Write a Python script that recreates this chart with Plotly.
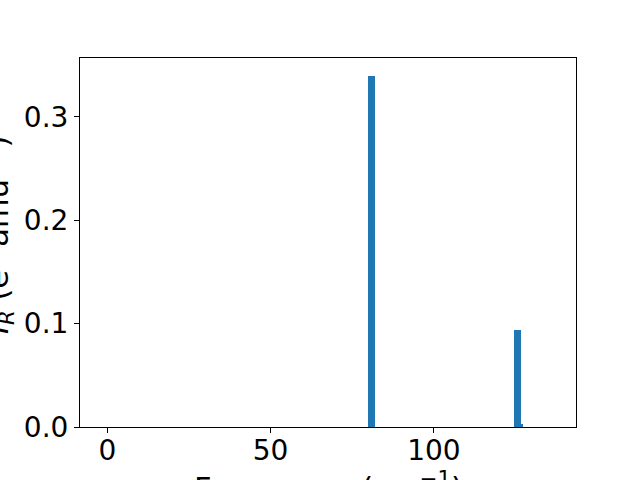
import plotly.graph_objects as go

# Data
freq = [126.9, 80.85, 125.6]
intensity = [0.003, 0.340, 0.094]
widths = [0.7, 2.1, 2.1]

x_ticks = [0, 50, 100]
y_ticks = [0.0, 0.1, 0.2, 0.3]

x_title = "Frequency (cm<sup>−1</sup>)"
y_title = "<i>I</i><sub><i>R</i></sub> (e<sup>2</sup> amu<sup>−1</sup>)"

FONT = "DejaVu Sans"
FS = 28
TFS = 30.5

fig = go.Figure()
fig.add_trace(go.Bar(x=freq, y=intensity, width=widths,
                     marker=dict(color="#1f77b4", line=dict(width=0))))

axis_common = dict(showline=True, linecolor="black", linewidth=1.1, mirror=True,
                   showgrid=False, zeroline=False, ticks="outside", ticklen=5,
                   tickwidth=1.1, tickcolor="black", automargin=False,
                   tickfont=dict(family=FONT, size=FS, color="black"))

fig.update_xaxes(range=[-8.36, 143.5], tickvals=x_ticks, ticklabelstandoff=-7,
                 ticktext=[str(v) for v in x_ticks], **axis_common)
fig.update_yaxes(range=[0, 0.357], tickvals=y_ticks,
                 ticktext=[f"{v:.1f}" for v in y_ticks], **axis_common)

fig.add_annotation(text=x_title, xref="paper", yref="paper", x=0.5, y=-0.1005,
                   xanchor="center", yanchor="top", showarrow=False,
                   font=dict(family=FONT, size=TFS, color="black"))
fig.add_annotation(text=y_title, xref="paper", yref="paper", x=-(80 - 21) / 496, y=0.52,
                   xanchor="right", yanchor="middle", textangle=-90, showarrow=False,
                   font=dict(family=FONT, size=TFS, color="black"))

fig.update_layout(width=640, height=480, margin=dict(l=80, r=64, t=58, b=53),
                  plot_bgcolor="white", paper_bgcolor="white", showlegend=False,
                  bargap=0, font=dict(family=FONT, size=FS, color="black"))

fig.write_html("out.html", config={"displayModeBar": False},
               post_script="document.body.style.margin='0';")
